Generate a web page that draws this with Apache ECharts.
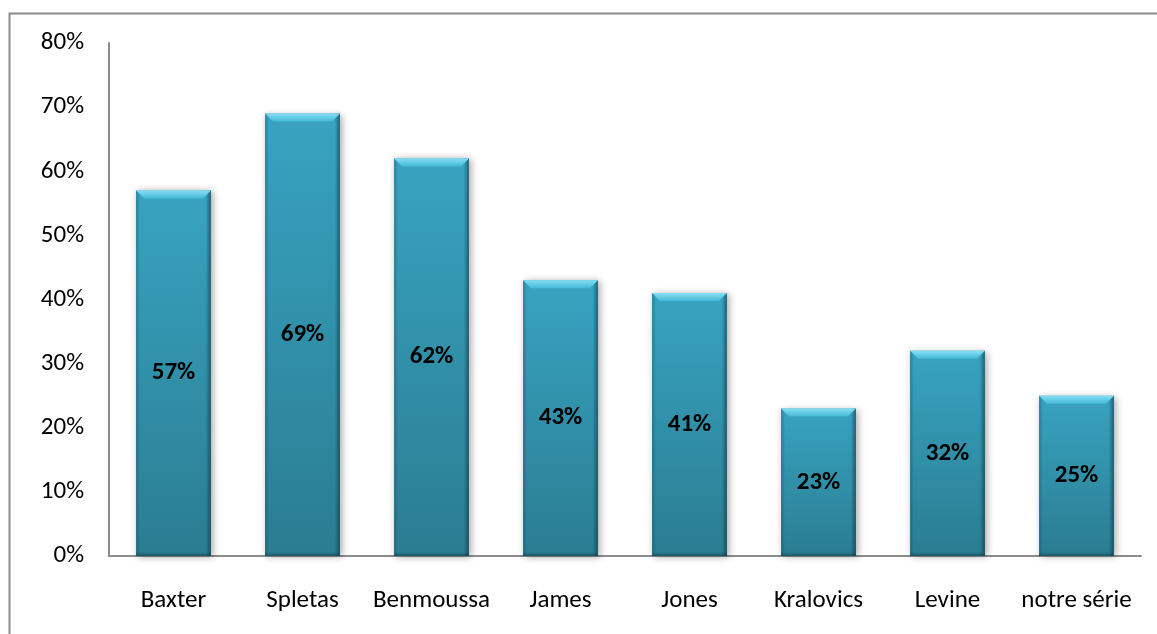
<!DOCTYPE html>
<html>
<head>
<meta charset="utf-8">
<script src="https://cdn.jsdelivr.net/npm/echarts@6/dist/echarts.min.js"></script>
<style>
  html, body { margin: 0; padding: 0; background: #fff; }
  #chart { width: 1157px; height: 634px; }
</style>
</head>
<body>
<div id="chart"></div>
<script>
// Share of cases per published series (percent)
const categories = ['Baxter', 'Spletas', 'Benmoussa', 'James', 'Jones', 'Kralovics', 'Levine', 'notre série'];
const values = [57, 69, 62, 43, 41, 23, 32, 25];
const yTicks = { min: 0, max: 80, interval: 10 };

const FONT = 'Carlito, Lato, "Open Sans", sans-serif';

const chart = echarts.init(document.getElementById('chart'), null, { renderer: 'canvas' });

// Bevelled bar: body, darkened edges, light top facet and centred value label
function renderBar(params, api) {
  const idx = api.value(0);
  const v = api.value(1);
  const top = api.coord([idx, v]);
  const base = api.coord([idx, 0]);
  const w = api.size([1, 0])[0] * 0.58;
  const x0 = top[0] - w / 2, x1 = top[0] + w / 2;
  const y0 = top[1], y1 = base[1];
  const h = y1 - y0;
  const b = 8;
  return {
    type: 'group',
    children: [
      {
        type: 'rect',
        shape: { x: x0, y: y0, width: w, height: h },
        style: {
          fill: new echarts.graphic.LinearGradient(0, 0, 0, 1, [
            { offset: 0, color: '#38a3c1' },
            { offset: 1, color: '#2a7d91' }
          ]),
          shadowBlur: 7,
          shadowOffsetX: 2,
          shadowOffsetY: 1,
          shadowColor: 'rgba(0,0,0,0.35)'
        }
      },
      {
        type: 'rect',
        shape: { x: x0, y: y0, width: w, height: h },
        style: {
          fill: new echarts.graphic.LinearGradient(0, 0, 1, 0, [
            { offset: 0, color: 'rgba(10,60,80,0.35)' },
            { offset: 0.05, color: 'rgba(10,60,80,0)' },
            { offset: 0.93, color: 'rgba(10,50,60,0)' },
            { offset: 1, color: 'rgba(10,40,50,0.55)' }
          ])
        }
      },
      {
        type: 'rect',
        shape: { x: x0, y: y1 - 4, width: w, height: 4 },
        style: {
          fill: new echarts.graphic.LinearGradient(0, 0, 0, 1, [
            { offset: 0, color: 'rgba(10,40,50,0)' },
            { offset: 1, color: 'rgba(10,40,50,0.45)' }
          ])
        }
      },
      {
        type: 'polygon',
        shape: { points: [[x0, y0], [x1, y0], [x1 - b, y0 + b], [x0 + b, y0 + b]] },
        style: {
          fill: new echarts.graphic.LinearGradient(0, 0, 0, 1, [
            { offset: 0, color: '#86def3' },
            { offset: 1, color: '#44b9d7' }
          ])
        }
      },
      {
        type: 'text',
        style: {
          text: v + '%',
          x: top[0],
          y: (y0 + y1) / 2,
          align: 'center',
          verticalAlign: 'middle',
          fill: '#000',
          font: 'bold 25px ' + FONT
        }
      }
    ]
  };
}

chart.setOption({
  animation: false,
  backgroundColor: '#fff',
  graphic: [
    {
      type: 'rect',
      z: -10,
      shape: { x: 9.5, y: 13.5, width: 1400, height: 900 },
      style: { fill: 'none', stroke: '#8c8c8c', lineWidth: 2 }
    }
  ],
  grid: { left: 109, right: 16, top: 43, bottom: 78, containLabel: false },
  xAxis: {
    type: 'category',
    data: categories,
    axisLine: { show: true, lineStyle: { color: '#8c8c8c', width: 2 } },
    axisTick: { show: false },
    axisLabel: { interval: 0, color: '#000', fontFamily: FONT, fontSize: 25, margin: 32 }
  },
  yAxis: {
    type: 'value',
    min: yTicks.min,
    max: yTicks.max,
    interval: yTicks.interval,
    axisLine: { show: true, lineStyle: { color: '#8c8c8c', width: 2 } },
    axisTick: { show: false },
    splitLine: { show: false },
    axisLabel: { color: '#000', fontFamily: FONT, fontSize: 25, margin: 25, formatter: '{value}%' }
  },
  series: [
    {
      type: 'custom',
      renderItem: renderBar,
      encode: { x: 0, y: 1 },
      data: values.map((v, i) => [i, v]),
      clip: false
    }
  ]
});
</script>
</body>
</html>
